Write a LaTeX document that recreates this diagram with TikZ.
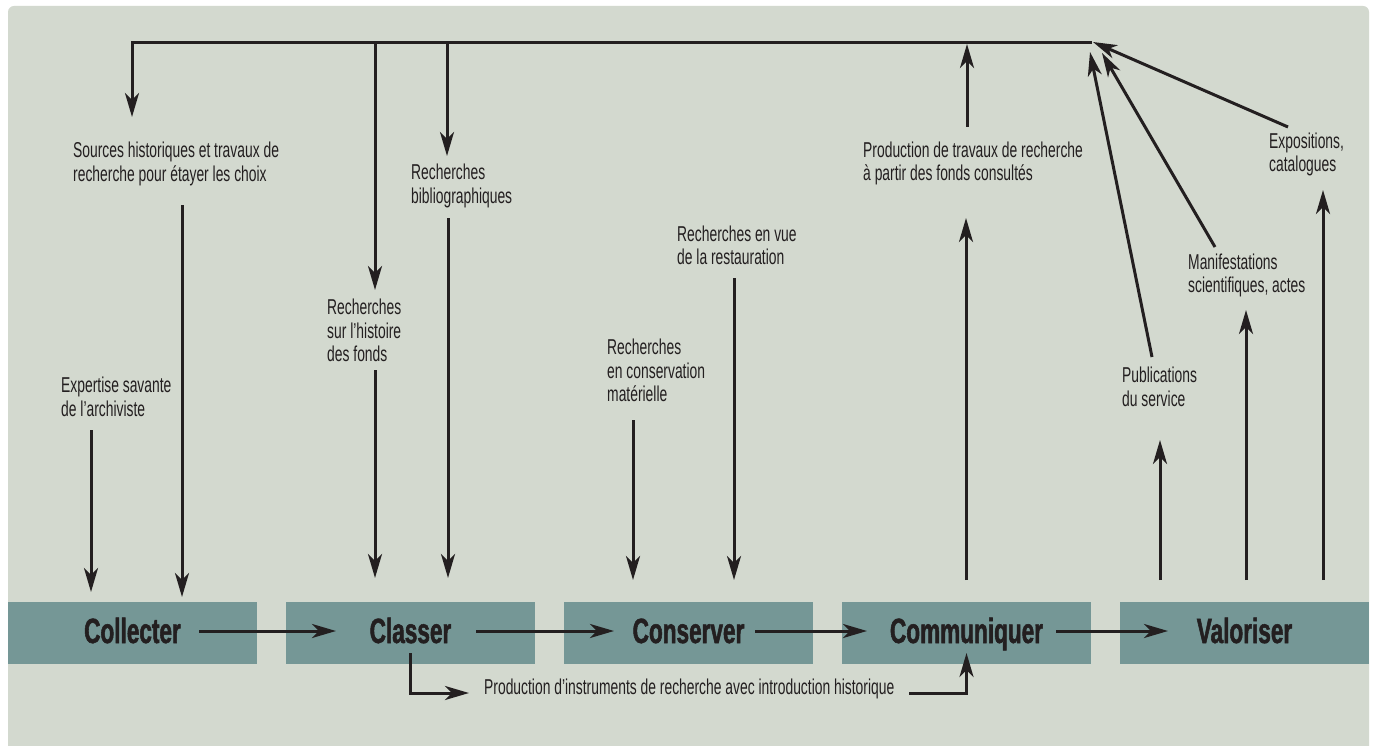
\documentclass[tikz,border=0pt]{standalone}
\usepackage{fontspec}
\setmainfont{Liberation Sans}[FakeStretch=0.645, BoldFeatures={FakeBold=1.5}]
\usetikzlibrary{arrows.meta}
\definecolor{bgc}{HTML}{D3D9CF}
\definecolor{boxc}{HTML}{759796}
\definecolor{ink}{HTML}{231F20}
\begin{document}
\begin{tikzpicture}[x=1pt,y=-1pt,
  lab/.style={font=\fontsize{21.5}{23.5}\selectfont, align=left, inner sep=0pt, anchor=west, text=ink},
  stage/.style={fill=boxc, minimum width=249pt, minimum height=62pt, inner sep=0pt,
    text height=25pt, text depth=5pt,
    font=\fontsize{35}{38}\selectfont\bfseries, text=ink},
  arr/.style={draw=ink, line width=3pt, -{Stealth[length=24pt,width=14pt,inset=7pt]}},
  ln/.style={draw=ink, line width=3pt}]
\useasboundingbox (0,0) rectangle (1375,746);
\fill[white] (0,0) rectangle (1375,746);
\fill[bgc, rounded corners=6pt] (8,6) rectangle (1369,770);

% stages
\node[stage] (collecter)   at (132.5,633)  {Collecter};
\node[stage] (classer)     at (410.5,633)  {Classer};
\node[stage] (conserver)   at (688.5,633)  {Conserver};
\node[stage] (communiquer) at (966.5,633)  {Communiquer};
\node[stage] (valoriser)   at (1244.5,633) {Valoriser};

% labels
\node[lab] (sources) at (73,164) {Sources historiques et travaux de\\recherche pour étayer les choix};
\node[lab] (expertise) at (61,397) {Expertise savante\\de l’archiviste};
\node[lab] (histoire) at (327,330.5) {Recherches\\sur l’histoire\\des fonds};
\node[lab] (biblio) at (411,186) {Recherches\\bibliographiques};
\node[lab] (restau) at (677,245.5) {Recherches en vue\\de la restauration};
\node[lab] (materielle) at (607,370.5) {Recherches\\en conservation\\matérielle};
\node[lab] (travaux) at (863,163.5) {Production de travaux de recherche\\à partir des fonds consultés};
\node[lab] (publi) at (1122,387) {Publications\\du service};
\node[lab] (manif) at (1188,275.5) {Manifestations\\scientifiques, actes};
\node[lab] (expo) at (1269,154.5) {Expositions,\\catalogues};
\node[lab] (instr) at (484,689) {Production d’instruments de recherche avec introduction historique};

% coordinates
\coordinate (hub) at (1092,43);
\coordinate (src-in) at (132,117);
\coordinate (hist-top) at (375,43);
\coordinate (hist-in) at (375,290);
\coordinate (bib-top) at (447,43);
\coordinate (bib-in) at (447,156);
\coordinate (trav-out) at (967,127);
\coordinate (trav-top) at (967,44);
\coordinate (exp-out) at (91,430);
\coordinate (exp-in) at (91,592);
\coordinate (src-out) at (182,205);
\coordinate (src-to) at (182,597);
\coordinate (hist-out) at (375,370);
\coordinate (hist-to) at (375,578);
\coordinate (bib-out) at (448,218);
\coordinate (bib-to) at (448,578);
\coordinate (mat-out) at (633,420);
\coordinate (mat-to) at (633,580);
\coordinate (res-out) at (734,278);
\coordinate (res-to) at (734,580);
\coordinate (com-out) at (966,580);
\coordinate (com-to) at (966,218);
\coordinate (v1-out) at (1160,580);
\coordinate (v1-to) at (1160,440);
\coordinate (v2-out) at (1246,580);
\coordinate (v2-to) at (1246,310);
\coordinate (v3-out) at (1323,580);
\coordinate (v3-to) at (1323,190);
\coordinate (pub-out) at (1152,357);
\coordinate (pub-hub) at (1090,52);
\coordinate (man-out) at (1215,247);
\coordinate (man-hub) at (1102,53);
\coordinate (ex-out) at (1288,127);
\coordinate (ex-hub) at (1093,42);
\coordinate (pa) at (469,693);
\coordinate (pb) at (909,693);

% top line and branches
\draw[arr] (hub) -| (src-in);
\draw[arr] (hist-top) -- (hist-in);
\draw[arr] (bib-top) -- (bib-in);
\draw[arr] (trav-out) -- (trav-top);

% down into stages
\draw[arr] (exp-out) -- (exp-in);
\draw[arr] (src-out) -- (src-to);
\draw[arr] (hist-out) -- (hist-to);
\draw[arr] (bib-out) -- (bib-to);
\draw[arr] (mat-out) -- (mat-to);
\draw[arr] (res-out) -- (res-to);

% up from stages
\draw[arr] (com-out) -- (com-to);
\draw[arr] (v1-out) -- (v1-to);
\draw[arr] (v2-out) -- (v2-to);
\draw[arr] (v3-out) -- (v3-to);

% diagonals to hub
\draw[arr] (pub-out) -- (pub-hub);
\draw[arr] (man-out) -- (man-hub);
\draw[arr] (ex-out) -- (ex-hub);

% stage chain
\draw[arr] ([xshift=66.5pt,yshift=2pt]collecter.center) -- ([xshift=-74.5pt,yshift=2pt]classer.center);
\draw[arr] ([xshift=65.5pt,yshift=2pt]classer.center) -- ([xshift=-74.5pt,yshift=2pt]conserver.center);
\draw[arr] ([xshift=66.5pt,yshift=2pt]conserver.center) -- ([xshift=-99.5pt,yshift=2pt]communiquer.center);
\draw[arr] ([xshift=89.5pt,yshift=2pt]communiquer.center) -- ([xshift=-76.5pt,yshift=2pt]valoriser.center);

% bottom
\draw[arr] ([yshift=-20pt]classer.center) |- (pa);
\draw[arr] (pb) -| ([yshift=-20pt]communiquer.center);
\end{tikzpicture}
\end{document}
